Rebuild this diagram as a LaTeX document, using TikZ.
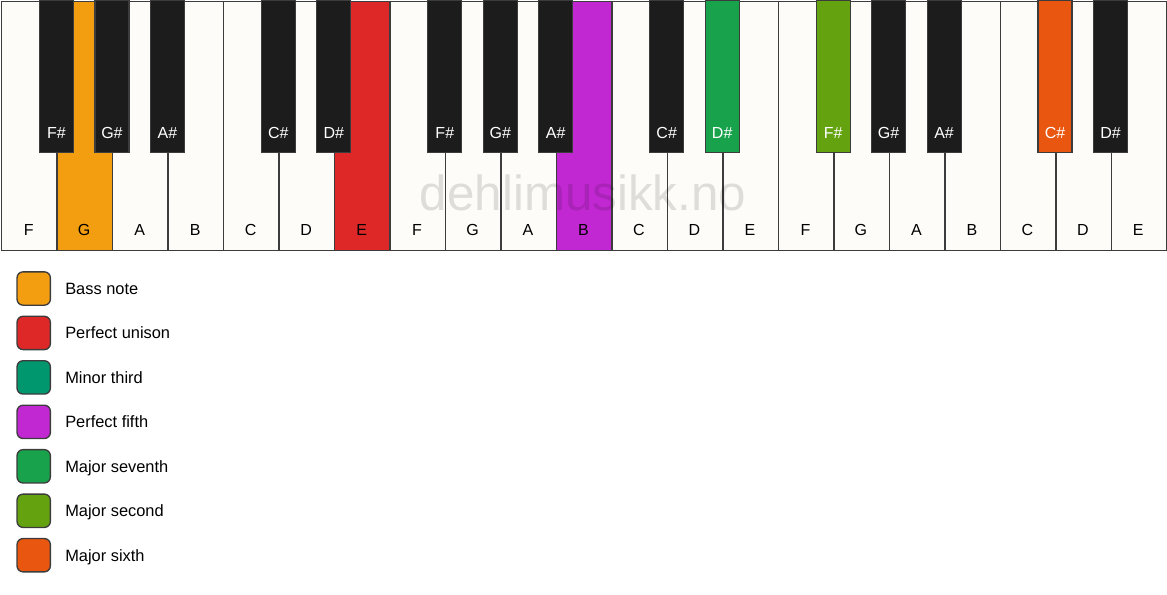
\documentclass[tikz,border=0pt]{standalone}
\usepackage{fontspec}
\setmainfont{Liberation Sans}
\usepackage{xcolor}
\usetikzlibrary{positioning}

\definecolor{keywhite}{RGB}{253,252,249}
\definecolor{keyblack}{RGB}{28,28,28}
\definecolor{keyedge}{RGB}{60,60,60}
\definecolor{bassnote}{RGB}{243,158,16}
\definecolor{unison}{RGB}{222,40,40}
\definecolor{minorthird}{RGB}{0,150,110}
\definecolor{fifth}{RGB}{194,40,210}
\definecolor{seventh}{RGB}{24,162,76}
\definecolor{second}{RGB}{100,162,16}
\definecolor{sixth}{RGB}{232,86,16}

\begin{document}
\begin{tikzpicture}[x=0.75pt,y=0.75pt,yscale=-1,xscale=1,
  whitekey/.style={draw=keyedge,line width=1.1pt,minimum width=41.6pt,minimum height=186.75pt,inner sep=0pt,anchor=north west},
  blackkey/.style={draw=keyedge,line width=0.9pt,minimum width=25.5pt,minimum height=114pt,inner sep=0pt,anchor=north},
  keytext/.style={font=\fontsize{12}{14}\selectfont,text height=8.6pt,text depth=0pt,inner sep=0pt},
  legtext/.style={font=\fontsize{12.3}{14}\selectfont,text height=8.8pt,text depth=0pt,inner sep=0pt},
  legbox/.style={draw=keyedge,line width=1pt,rounded corners=4.5pt,minimum size=25pt,inner sep=0pt}]
\useasboundingbox (0,0) rectangle (1167,594);

% White Keys
\foreach \name/\col [count=\i from 0] in {F/keywhite,G/bassnote,A/keywhite,B/keywhite,C/keywhite,D/keywhite,E/unison,
  F/keywhite,G/keywhite,A/keywhite,B/fifth,C/keywhite,D/keywhite,E/keywhite,
  F/keywhite,G/keywhite,A/keywhite,B/keywhite,C/keywhite,D/keywhite,E/keywhite} {
  \node[whitekey,fill=\col] (wk\i) at ({1+\i*55.476},0.5) {};
  \node[keytext] (wl\i) at ({1+(\i+0.5)*55.476},230) {\name};
}

% Black Keys
\foreach \i/\name/\col in {0/F\#/keyblack,1/G\#/keyblack,2/A\#/keyblack,4/C\#/keyblack,5/D\#/keyblack,
  7/F\#/keyblack,8/G\#/keyblack,9/A\#/keyblack,11/C\#/keyblack,12/D\#/seventh,
  14/F\#/second,15/G\#/keyblack,16/A\#/keyblack,18/C\#/sixth,19/D\#/keyblack} {
  \node[blackkey,fill=\col] (bk\i) at ({1+(\i+1)*55.476},0) {};
  \node[keytext,text=white] (bl\i) at ({1+(\i+1)*55.476},133) {\name};
}

% Watermark
\node[font=\fontsize{37}{40}\selectfont,text=black,text opacity=0.12,inner sep=0pt] (mark) at (583,193) {dehlimusikk.no};

% Legend
\foreach \col/\txt [count=\j from 0] in {bassnote/Bass note,unison/Perfect unison,minorthird/Minor third,
  fifth/Perfect fifth,seventh/Major seventh,second/Major second,sixth/Major sixth} {
  \node[legbox,fill=\col] (lb\j) at (33.7,{288.5+\j*44.45}) {};
  \node[legtext,right=10.5pt of lb\j] (lt\j) {\txt};
}

\end{tikzpicture}
\end{document}
